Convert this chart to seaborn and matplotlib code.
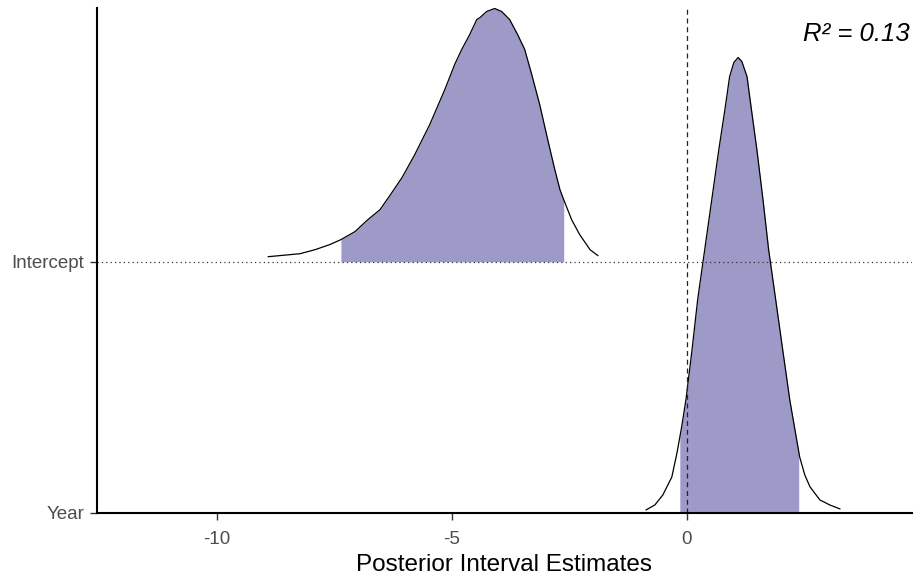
import numpy as np
import pandas as pd
import matplotlib
matplotlib.use("Agg")
import matplotlib.pyplot as plt
import seaborn as sns

# Parameter names (bottom to top) and their row positions
params = ["Year", "Intercept"]
rows = [0, 1]

# Posterior density outlines (x, scaled ridge height) for each parameter
intercept_x = [-8.91, -8.23, -7.91, -7.60, -7.36, -7.06, -6.79, -6.53, -6.32,
               -6.06, -5.79, -5.47, -5.15, -4.94, -4.79, -4.62, -4.47, -4.40,
               -4.26, -4.09, -3.94, -3.77, -3.60, -3.45, -3.30, -3.13, -2.96,
               -2.81, -2.70, -2.62, -2.45, -2.28, -2.06, -1.89]
intercept_h = [0.020, 0.032, 0.048, 0.068, 0.088, 0.120, 0.167, 0.207, 0.263,
               0.335, 0.426, 0.546, 0.685, 0.785, 0.845, 0.904, 0.964, 0.972,
               0.996, 1.008, 0.996, 0.964, 0.904, 0.845, 0.745, 0.625, 0.486,
               0.367, 0.287, 0.247, 0.167, 0.108, 0.048, 0.024]

year_x = [-0.87, -0.68, -0.51, -0.32, -0.21, -0.11, -0.02, 0.11, 0.23, 0.38,
          0.53, 0.68, 0.81, 0.91, 1.00, 1.09, 1.17, 1.28, 1.36, 1.49, 1.62,
          1.74, 1.89, 2.04, 2.19, 2.30, 2.40, 2.51, 2.62, 2.83, 3.04, 3.26]
year_h = [0.012, 0.032, 0.072, 0.143, 0.239, 0.343, 0.450, 0.649, 0.849,
          1.048, 1.247, 1.446, 1.606, 1.737, 1.793, 1.813, 1.797, 1.737,
          1.625, 1.446, 1.247, 1.048, 0.849, 0.649, 0.450, 0.331, 0.223,
          0.151, 0.104, 0.052, 0.032, 0.016]

# Central posterior intervals (shaded)
interval_lo = [-0.15, -7.36]
interval_hi = [2.38, -2.62]

r2_label = "R² = 0.13"
x_ticks = [-10, -5, 0]
x_label = "Posterior Interval Estimates"

curves = pd.concat([
    pd.DataFrame({"x": year_x, "h": year_h, "param": "Year", "row": 0}),
    pd.DataFrame({"x": intercept_x, "h": intercept_h, "param": "Intercept", "row": 1}),
])
curves["y"] = curves["row"] + curves["h"]

sns.set_theme(style="white")
plt.rcParams["font.family"] = ["Liberation Sans", "DejaVu Sans"]

fig = plt.figure(figsize=(9.14, 5.83), dpi=100)
ax = fig.add_axes([0.1061, 0.1201, 0.8917, 0.8662])

fill_color = "#9e9ac8"

for p, r, lo, hi in zip(params, rows, interval_lo, interval_hi):
    d = curves[curves["param"] == p]
    xs = np.linspace(lo, hi, 300)
    ys = np.interp(xs, d["x"], d["h"])
    ax.fill_between(xs, r, r + ys, color=fill_color, linewidth=0, zorder=2)

sns.lineplot(data=curves, x="x", y="y", units="param", estimator=None,
             sort=False, color="black", linewidth=0.9, ax=ax, zorder=3)

ax.axvline(0, color="#222222", linestyle=(0, (4, 3)), linewidth=0.9, zorder=4)
for r in rows:
    ax.axhline(r, color="#333333", linestyle=(0, (1, 2.5)), linewidth=0.9, zorder=4)

ax.set_xlim(-12.55, 4.79)
ax.set_ylim(0, 2.01)
ax.set_xticks(x_ticks)
ax.set_xticklabels([str(t) for t in x_ticks])
ax.set_yticks(rows)
ax.set_yticklabels(params)
ax.set_xlabel(x_label, fontsize=17.5, color="black", labelpad=4)
ax.set_ylabel("")

for s in ["top", "right"]:
    ax.spines[s].set_visible(False)
for s in ["left", "bottom"]:
    ax.spines[s].set_color("black")
    ax.spines[s].set_linewidth(1.5)
    ax.spines[s].set_zorder(5)

ax.tick_params(axis="both", which="both", length=5, width=1, color="#333333",
               labelsize=13.5, labelcolor="#4d4d4d", bottom=True, left=True)
ax.tick_params(axis="x", pad=8)
ax.tick_params(axis="y", pad=4)

ax.text(0.997, 0.972, r2_label, transform=ax.transAxes, ha="right", va="top",
        fontsize=18.5, fontstyle="italic", color="black")

fig.savefig("out.png", dpi=100)
